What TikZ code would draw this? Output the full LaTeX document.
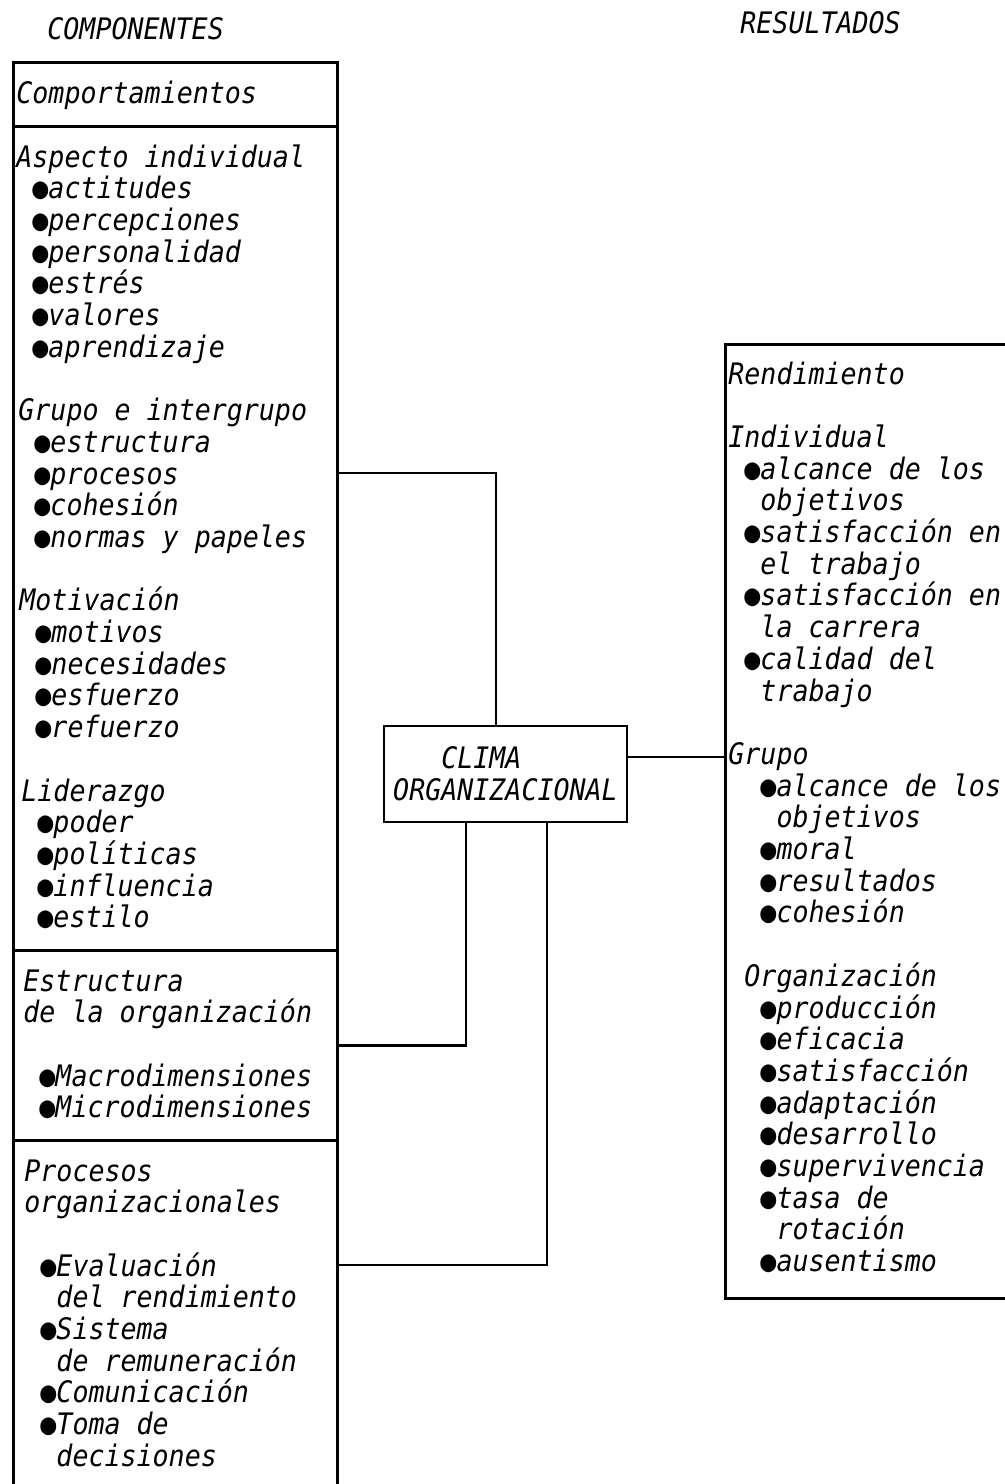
\documentclass[tikz,border=0pt]{standalone}
\usepackage{fontspec}
\usetikzlibrary{calc}
% Oblique monospaced face for all labels, upright face for the bullets
\newfontfamily\mono[FakeStretch=0.9]{DejaVu Sans Mono Oblique}
\newfontfamily\monoup[FakeStretch=0.9]{DejaVu Sans Mono}
% one character cell of the label font
\newlength\cellw
\newcommand\labelfont{\mono\fontsize{14.8pt}{15.85pt}\selectfont
  \global\cellw=\fontcharwd\font`a\relax
  \spaceskip=\cellw\relax\xspaceskip=\cellw\relax}
\newcommand\cellsp{\hspace*{\cellw}}
\newcommand\bul{\makebox[\cellw][c]{\monoup ●}}

\begin{document}
\begin{tikzpicture}[x=0.5pt,y=-0.5pt,
  txt/.style={anchor=base west, inner sep=0pt, text width=170pt, align=left, font=\labelfont},
  panel/.style={draw, line width=1.4pt, anchor=north west, inner sep=0pt, minimum width=162pt},
  wire/.style={line width=1.4pt, line cap=rect},
]
\useasboundingbox (0,0) rectangle (1005,1484);
\clip (0,0) rectangle (1005,1484);

% column headings
\node[txt] (tcomp) at (47,39) {COMPONENTES};
\node[txt] (tres) at (740,33) {RESULTADOS};

% left column: components
\node[panel, minimum height=32pt] (comp) at (12,61) {};
\node[panel, minimum height=412pt] (behav) at (12,125) {};
\node[panel, minimum height=95pt] (estr) at (12,949) {};
\node[panel, minimum height=181pt] (proc) at (12,1139) {};

\node[txt] (tcomport) at (16,103) {Comportamientos};

\node[txt] (asp) at (16,167) {Aspecto\cellsp individual\\
\cellsp\bul actitudes\\
\cellsp\bul percepciones\\
\cellsp\bul personalidad\\
\cellsp\bul estrés\\
\cellsp\bul valores\\
\cellsp\bul aprendizaje};

\node[txt] (grp) at (18,420.6) {Grupo\cellsp e\cellsp intergrupo\\
\cellsp\bul estructura\\
\cellsp\bul procesos\\
\cellsp\bul cohesión\\
\cellsp\bul normas\cellsp y\cellsp papeles};

\node[txt] (mot) at (19,610.8) {Motivación\\
\cellsp\bul motivos\\
\cellsp\bul necesidades\\
\cellsp\bul esfuerzo\\
\cellsp\bul refuerzo};

\node[txt] (lid) at (21,801) {Liderazgo\\
\cellsp\bul poder\\
\cellsp\bul políticas\\
\cellsp\bul influencia\\
\cellsp\bul estilo};

\node[txt] (testr) at (23,991) {Estructura\\
de\cellsp la\cellsp organización\\
\cellsp\\
\cellsp\bul Macrodimensiones\\
\cellsp\bul Microdimensiones};

\node[txt] (tproc) at (24,1181) {Procesos\\
organizacionales\\
\cellsp\\
\cellsp\bul Evaluación\\
\cellsp\cellsp del\cellsp rendimiento\\
\cellsp\bul Sistema\\
\cellsp\cellsp de\cellsp remuneración\\
\cellsp\bul Comunicación\\
\cellsp\bul Toma\cellsp de\\
\cellsp\cellsp decisiones};

% centre: organizational climate
\node[draw, line width=1.4pt, minimum width=121.5pt, minimum height=48pt,
      inner sep=0pt, align=left, font=\labelfont] (clima) at (505.5,774)
      {\phantom{ORG}CLIMA\\ORGANIZACIONAL};

% right column: results
\node[panel, minimum width=150pt, minimum height=477pt] (res) at (724,343) {};
\node[txt] (trend) at (728,384) {Rendimiento\\
\cellsp\\
Individual\\
\cellsp\bul alcance\cellsp de\cellsp los\\
\cellsp\cellsp objetivos\\
\cellsp\bul satisfacción\cellsp en\\
\cellsp\cellsp el\cellsp trabajo\\
\cellsp\bul satisfacción\cellsp en\\
\cellsp\cellsp la\cellsp carrera\\
\cellsp\bul calidad\cellsp del\\
\cellsp\cellsp trabajo\\
\cellsp\\
Grupo\\
\cellsp\cellsp\bul alcance\cellsp de\cellsp los\\
\cellsp\cellsp\cellsp objetivos\\
\cellsp\cellsp\bul moral\\
\cellsp\cellsp\bul resultados\\
\cellsp\cellsp\bul cohesión\\
\cellsp\\
\cellsp Organización\\
\cellsp\cellsp\bul producción\\
\cellsp\cellsp\bul eficacia\\
\cellsp\cellsp\bul satisfacción\\
\cellsp\cellsp\bul adaptación\\
\cellsp\cellsp\bul desarrollo\\
\cellsp\cellsp\bul supervivencia\\
\cellsp\cellsp\bul tasa\cellsp de\\
\cellsp\cellsp\cellsp rotación\\
\cellsp\cellsp\bul ausentismo};

% connectors
\coordinate (k1) at (496,473);
\coordinate (k2) at (466,1043);
\coordinate (k3) at (547,1265);
\coordinate (k4) at ($(clima.east)+(0,-17)$);
\draw[wire] (k1 |- clima.north) -- (k1) -- (k1 -| behav.east);
\draw[wire] (k4) -- (k4 -| res.west);
\draw[wire] (clima.south -| k2) |- (estr.east);
\draw[wire] (clima.south -| k3) |- (k3 -| proc.east);
\end{tikzpicture}
\end{document}
